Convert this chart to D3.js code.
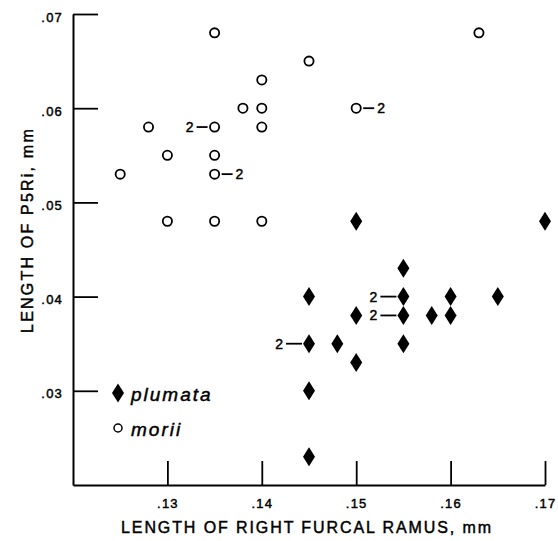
<!DOCTYPE html>
<html>
<head>
<meta charset="utf-8">
<script src="https://cdn.jsdelivr.net/npm/d3@7"></script>
<style>
  html, body { margin: 0; padding: 0; background: #fff; }
  svg { display: block; }
  text { font-family: "Liberation Sans", Arial, sans-serif; fill: #000; stroke: #000; stroke-width: 0.45px; }
</style>
</head>
<body>
<script>
// Right furcal ramus length (x) vs P5Ri length (y), mm
const moriiX = [0.135, 0.140, 0.138, 0.140, 0.128, 0.135, 0.140, 0.130, 0.135, 0.125, 0.135, 0.130, 0.135, 0.140, 0.145, 0.163, 0.150];
const moriiY = [0.068, 0.063, 0.060, 0.060, 0.058, 0.058, 0.058, 0.055, 0.055, 0.053, 0.053, 0.048, 0.048, 0.048, 0.065, 0.068, 0.060];
const moriiN = [1, 1, 1, 1, 1, 2, 1, 1, 1, 1, 2, 1, 1, 1, 1, 1, 2];

const plumataX = [0.150, 0.170, 0.155, 0.145, 0.155, 0.160, 0.165, 0.150, 0.155, 0.158, 0.160, 0.145, 0.148, 0.155, 0.150, 0.145, 0.145];
const plumataY = [0.048, 0.048, 0.043, 0.040, 0.040, 0.040, 0.040, 0.038, 0.038, 0.038, 0.038, 0.035, 0.035, 0.035, 0.033, 0.030, 0.023];
const plumataN = [1, 1, 1, 1, 2, 1, 1, 1, 2, 1, 1, 2, 1, 1, 1, 1, 1];

const xTicks = [0.13, 0.14, 0.15, 0.16, 0.17];
const yTicks = [0.03, 0.04, 0.05, 0.06, 0.07];
const legendLabels = ["plumata", "morii"];
const xTitle = "LENGTH OF RIGHT FURCAL RAMUS, mm";
const yTitle = "LENGTH OF P5Ri, mm";

const W = 558, H = 541;
const svg = d3.select("body").append("svg").attr("width", W).attr("height", H);

const x = d3.scaleLinear().domain([0.12, 0.17]).range([73, 545]);
const y = d3.scaleLinear().domain([0.02, 0.07]).range([485, 14]);

const fmt = v => d3.format(".2f")(v).replace(/^0/, "");

// axes: ticks point inward, no outer ticks
const gx = svg.append("g").attr("transform", `translate(0,${y(0.02)})`)
  .call(d3.axisBottom(x).tickValues(xTicks).tickFormat(fmt).tickSizeInner(-24).tickSizeOuter(0).tickPadding(14));
const gy = svg.append("g").attr("transform", `translate(${x(0.12)},0)`)
  .call(d3.axisLeft(y).tickValues(yTicks).tickFormat(fmt).tickSizeInner(-25).tickSizeOuter(0).tickPadding(10));

[gx, gy].forEach(g => {
  g.select(".domain").attr("stroke", "#000").attr("stroke-width", 2);
  g.selectAll(".tick line").attr("stroke", "#000").attr("stroke-width", 1.8);
  g.selectAll(".tick text").attr("font-size", 13).attr("letter-spacing", 1.2)
    .style("font-family", "'Liberation Sans', Arial, sans-serif").attr("fill", "#000");
});
gx.selectAll(".tick text").attr("dy", "0.71em");
gy.selectAll(".tick text").attr("dy", "0.55em");

// axis titles
svg.append("text").attr("x", 307).attr("y", 533).attr("text-anchor", "middle")
  .attr("font-size", 16).attr("letter-spacing", 1.9).text(xTitle);
svg.append("text").attr("transform", "translate(33,230) rotate(-90)").attr("text-anchor", "middle")
  .attr("font-size", 16).attr("letter-spacing", 2.2).text(yTitle);

const diamond = "M0,-9.5L6,0L0,9.5L-6,0Z";

// morii: open circles
const mori = moriiX.map((v, i) => ({ x: v, y: moriiY[i], n: moriiN[i] }));
svg.append("g").selectAll("circle").data(mori).join("circle")
  .attr("cx", d => x(d.x)).attr("cy", d => y(d.y)).attr("r", 4.6)
  .attr("fill", "#fff").attr("stroke", "#000").attr("stroke-width", 1.8);

// plumata: filled diamonds
const plum = plumataX.map((v, i) => ({ x: v, y: plumataY[i], n: plumataN[i] }));
svg.append("g").selectAll("path").data(plum).join("path")
  .attr("d", diamond).attr("transform", d => `translate(${x(d.x)},${y(d.y)})`).attr("fill", "#000");

// counts of coincident specimens
function countLabel(cx, cy, n, side, gap, dash) {
  const s = side === "left" ? -1 : 1;
  svg.append("line").attr("x1", cx + s * gap).attr("x2", cx + s * (gap + dash))
    .attr("y1", cy).attr("y2", cy).attr("stroke", "#000").attr("stroke-width", 1.8);
  svg.append("text").attr("x", cx + s * (gap + dash + 3)).attr("y", cy).attr("dy", "0.36em")
    .attr("text-anchor", side === "left" ? "end" : "start").attr("font-size", 14).text(n);
}
mori.forEach(d => {
  if (d.n > 1) {
    const side = (d.y === 0.058) ? "left" : "right";
    countLabel(x(d.x), y(d.y), d.n, side, 7, 11);
  }
});
plum.forEach(d => {
  if (d.n > 1) countLabel(x(d.x), y(d.y), d.n, "left", 7, 16);
});

// legend
const lg = svg.append("g");
lg.append("path").attr("d", diamond).attr("transform", "translate(118,393)").attr("fill", "#000");
lg.append("circle").attr("cx", 118).attr("cy", 428).attr("r", 4).attr("fill", "#fff")
  .attr("stroke", "#000").attr("stroke-width", 1.5);
lg.selectAll("text").data(legendLabels).join("text")
  .attr("x", 131).attr("y", (d, i) => 401 + i * 35)
  .attr("font-size", 19).attr("font-style", "italic").attr("letter-spacing", 2).text(d => d);
</script>
</body>
</html>
